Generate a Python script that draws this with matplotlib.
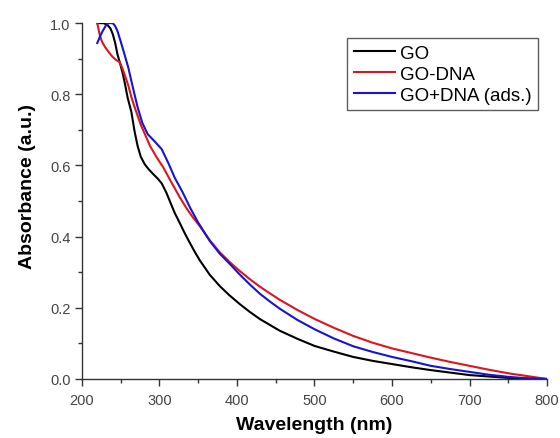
import matplotlib
matplotlib.use("Agg")
import matplotlib.pyplot as plt
from matplotlib.ticker import MultipleLocator, FormatStrFormatter

plt.rcParams['font.family'] = ['Liberation Sans', 'DejaVu Sans']

go_x = [220, 228, 233, 237, 240, 243, 246, 250, 253, 256, 259, 264, 268, 272, 276, 281, 286, 292, 298, 303,
        309, 315, 320, 326, 332, 338, 345, 352, 365, 378, 390, 404, 417, 430, 455, 478, 500, 525, 550, 575,
        600, 625, 650, 675, 700, 725, 750, 775, 800]
go_y = [1.0, 1.0, 0.995, 0.985, 0.969, 0.945, 0.913, 0.882, 0.857, 0.826, 0.792, 0.75, 0.697, 0.655, 0.625,
        0.604, 0.59, 0.576, 0.563, 0.55, 0.524, 0.492, 0.466, 0.44, 0.413, 0.388, 0.36, 0.334, 0.293, 0.261,
        0.236, 0.21, 0.188, 0.168, 0.136, 0.113, 0.093, 0.077, 0.062, 0.051, 0.042, 0.033, 0.025, 0.018,
        0.011, 0.007, 0.003, 0.001, 0.0]

godna_x = [220, 223, 226, 230, 235, 239, 244, 249, 252, 255, 260, 264, 268, 272, 276, 281, 288, 296, 305,
           315, 326, 335, 343, 352, 365, 378, 391, 404, 417, 430, 443, 455, 478, 500, 525, 550, 575, 600,
           625, 650, 675, 700, 725, 750, 775, 800]
godna_y = [1.0, 0.969, 0.948, 0.933, 0.918, 0.907, 0.897, 0.89, 0.875, 0.857, 0.825, 0.792, 0.765, 0.74,
           0.715, 0.69, 0.655, 0.625, 0.595, 0.555, 0.512, 0.48, 0.455, 0.43, 0.39, 0.356, 0.328, 0.303,
           0.28, 0.259, 0.24, 0.223, 0.194, 0.169, 0.144, 0.121, 0.102, 0.086, 0.073, 0.06, 0.048, 0.037,
           0.026, 0.016, 0.008, 0.0]

ads_x = [220, 224, 227, 231, 234, 240, 243, 246, 250, 255, 260, 264, 268, 272, 278, 285, 293, 303, 312,
         320, 330, 340, 350, 365, 378, 391, 404, 417, 430, 443, 455, 478, 500, 525, 550, 575, 600, 625,
         650, 675, 700, 725, 750, 775, 800]
ads_y = [0.944, 0.965, 0.978, 0.993, 1.0, 1.0, 0.992, 0.978, 0.95, 0.913, 0.875, 0.837, 0.8, 0.764, 0.72,
         0.688, 0.67, 0.646, 0.605, 0.565, 0.525, 0.48, 0.44, 0.388, 0.352, 0.323, 0.293, 0.265, 0.239,
         0.217, 0.198, 0.166, 0.14, 0.114, 0.092, 0.076, 0.062, 0.05, 0.037, 0.028, 0.02, 0.012, 0.006,
         0.002, 0.0]

labels = ["GO", "GO-DNA", "GO+DNA (ads.)"]
colors = ["#000000", "#e0141c", "#1414d2"]

fig = plt.figure(figsize=(5.6, 4.39), dpi=100)
ax = fig.add_axes([0.146, 0.1344, 0.831, 0.8106])

for xs, ys, lab, c in zip([go_x, godna_x, ads_x], [go_y, godna_y, ads_y], labels, colors):
    ax.plot(xs, ys, color=c, lw=1.5, label=lab, solid_joinstyle='round')

ax.set_xlim(200, 800)
ax.set_ylim(0, 1.0)
ax.xaxis.set_major_locator(MultipleLocator(100))
ax.xaxis.set_minor_locator(MultipleLocator(50))
ax.yaxis.set_major_locator(MultipleLocator(0.2))
ax.yaxis.set_minor_locator(MultipleLocator(0.1))
ax.yaxis.set_major_formatter(FormatStrFormatter('%.1f'))
for s in ['top', 'right']:
    ax.spines[s].set_visible(False)
for s in ['left', 'bottom']:
    ax.spines[s].set_color('#333333')
    ax.spines[s].set_linewidth(1.0)
ax.tick_params(which='major', direction='out', length=5, width=1, color='#333333',
               labelsize=10.5, labelcolor='#444444')
ax.tick_params(axis='x', which='major', pad=5)
ax.tick_params(axis='y', which='major', pad=3)
ax.tick_params(which='minor', direction='out', length=3, width=1, color='#333333')
ax.set_xlabel("Wavelength (nm)", fontsize=14, fontweight='bold')
ax.set_ylabel("Absorbance (a.u.)", fontsize=14, fontweight='bold')
ax.xaxis.set_label_coords(0.499, -0.103)
ax.yaxis.set_label_coords(-0.099, 0.545)

leg = ax.legend(loc='upper left', bbox_to_anchor=(0.570, 0.958), frameon=True, fancybox=False,
                edgecolor='#333333', fontsize=13.5, handlelength=2.2, handletextpad=0.27,
                borderpad=0.35, labelspacing=0.2, borderaxespad=0)
leg.get_frame().set_linewidth(1.0)

fig.savefig("out.png", dpi=100)
